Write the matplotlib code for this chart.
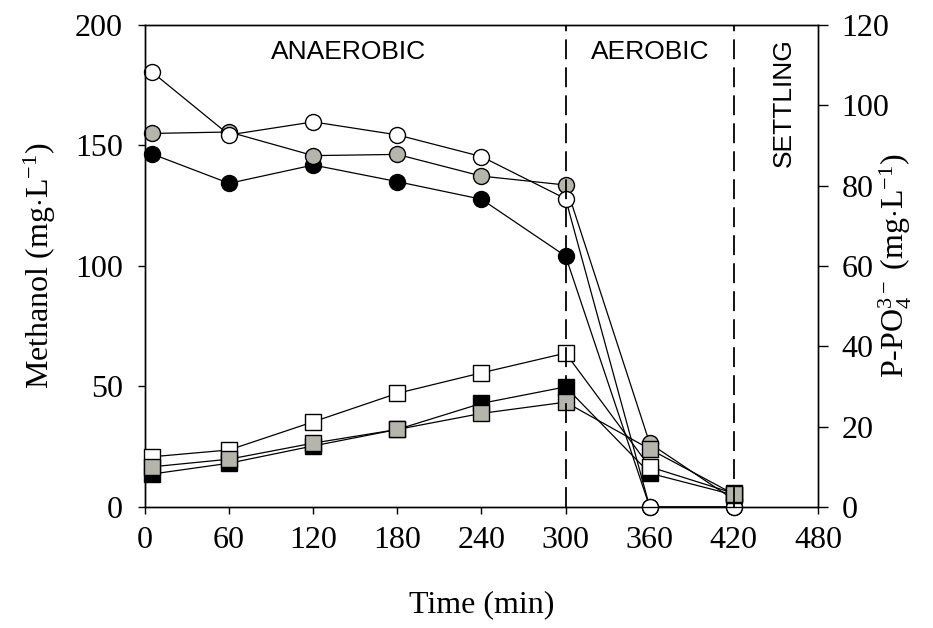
import matplotlib
matplotlib.use("Agg")
import matplotlib.pyplot as plt

plt.rcParams['font.family'] = ['Liberation Serif', 'DejaVu Serif']
plt.rcParams['mathtext.fontset'] = 'custom'
plt.rcParams['mathtext.rm'] = 'Liberation Serif'
plt.rcParams['mathtext.it'] = 'Liberation Serif:italic'

# Sampling times (min)
time = [5, 60, 120, 180, 240, 300, 360, 420]

# Methanol (mg/L), left axis
meoh_black = [146.5, 134.3, 141.9, 135.0, 127.7, 104.1, 0.0, 0.0]
meoh_gray = [155.0, 155.6, 145.8, 146.3, 137.3, 133.6, 26.4, 3.0]
meoh_white = [180.5, 154.4, 159.8, 154.4, 145.4, 127.9, 0.0, 0.0]

# P-PO4 (mg/L), right axis
p_black = [8.2, 10.9, 15.2, 19.3, 25.8, 29.9, 8.4, 3.0]
p_gray = [10.0, 11.9, 15.9, 19.3, 23.3, 26.1, 14.4, 3.2]
p_white = [12.5, 14.2, 21.2, 28.3, 33.4, 38.3, 10.0, 3.4]

phase_bounds = [300, 420]
x_ticks = [0, 60, 120, 180, 240, 300, 360, 420, 480]
left_ticks = [0, 50, 100, 150, 200]
right_ticks = [0, 20, 40, 60, 80, 100, 120]

GRAY = '#b5b5ab'
lw = 0.9
FS = 23

fig = plt.figure(figsize=(9.33, 6.28), dpi=100)
ax = fig.add_axes([0.1554, 0.1927, 0.7213, 0.7675])
ax2 = ax.twinx()

circ = dict(marker='o', markersize=11.5, markeredgecolor='black', markeredgewidth=1.0,
            color='black', linewidth=lw)
sq = dict(marker='s', markersize=11, markeredgecolor='black', markeredgewidth=1.0,
          color='black', linewidth=lw)

ax.plot(time, meoh_black, markerfacecolor='black', zorder=3, clip_on=False, **circ)
ax.plot(time, meoh_gray, markerfacecolor=GRAY, zorder=4, clip_on=False, **circ)
ax.plot(time, meoh_white, markerfacecolor='white', zorder=5, clip_on=False, **circ)

ax2.plot(time, p_black, markerfacecolor='black', zorder=3, clip_on=False, **sq)
ax2.plot(time, p_white, markerfacecolor='white', zorder=4, clip_on=False, **sq)
ax2.plot(time, p_gray, markerfacecolor=GRAY, zorder=5, clip_on=False, **sq)

# Phase boundaries
for xb in phase_bounds:
    ax2.axvline(xb, color='black', linewidth=1.3, dashes=(11, 4.5), zorder=10)

ax.set_xlim(0, 480)
ax.set_ylim(0, 200)
ax2.set_ylim(0, 120)
ax.set_xticks(x_ticks)
ax.set_yticks(left_ticks)
ax2.set_yticks(right_ticks)

for a in (ax, ax2):
    for s in a.spines.values():
        s.set_linewidth(1.0)
ax.tick_params(axis='x', direction='out', length=5, width=1.0, labelsize=FS, pad=9)
ax.tick_params(axis='y', direction='out', length=5, width=1.0, labelsize=FS, pad=11)
ax2.tick_params(axis='y', direction='out', length=7, width=1.0, labelsize=FS, pad=10)

ax.set_xlabel('Time (min)', fontsize=FS, va='center')
ax.xaxis.set_label_coords(0.5, -0.203)
ax.set_ylabel(r'Methanol (mg$\cdot$L$^{\mathregular{-1}}$)', fontsize=FS, va='center')
ax.yaxis.set_label_coords(-0.156, 0.5)
ax2.set_ylabel(r'P-PO$_\mathregular{4}^{\mathregular{3-}}$ (mg$\cdot$L$^{\mathregular{-1}}$)',
               fontsize=FS, rotation=90, va='center')
ax2.yaxis.set_label_coords(1.115, 0.5)

sans = ['Liberation Sans', 'DejaVu Sans']
ax.text(145.5, 189, 'ANAEROBIC', ha='center', va='center', fontsize=19, family=sans)
ax.text(360, 189, 'AEROBIC', ha='center', va='center', fontsize=19, family=sans)
ax.text(456, 168, 'SETTLING', ha='center', va='center', fontsize=19, family=sans, rotation=90)

fig.savefig('out.png', dpi=100)
